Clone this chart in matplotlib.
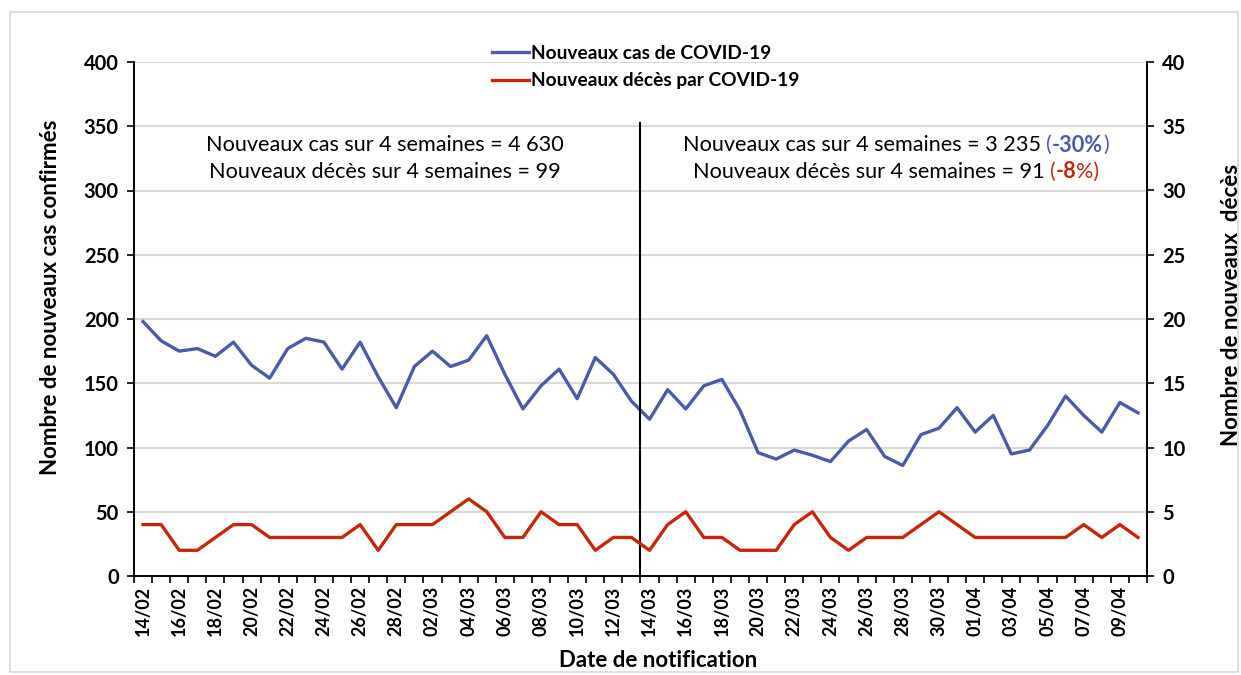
import numpy as np
import matplotlib
matplotlib.use("Agg")
from matplotlib import pyplot as plt
from matplotlib.patches import Rectangle

plt.rcParams['font.family'] = ['Lato', 'DejaVu Sans']

# donnees
dates = ['14/02', '15/02', '16/02', '17/02', '18/02', '19/02', '20/02', '21/02', '22/02', '23/02',
         '24/02', '25/02', '26/02', '27/02', '28/02', '01/03', '02/03', '03/03', '04/03', '05/03',
         '06/03', '07/03', '08/03', '09/03', '10/03', '11/03', '12/03', '13/03', '14/03', '15/03',
         '16/03', '17/03', '18/03', '19/03', '20/03', '21/03', '22/03', '23/03', '24/03', '25/03',
         '26/03', '27/03', '28/03', '29/03', '30/03', '31/03', '01/04', '02/04', '03/04', '04/04',
         '05/04', '06/04', '07/04', '08/04', '09/04', '10/04']
cas = [198, 183, 175, 177, 171, 182, 164, 154, 177, 185, 182, 161, 182, 155, 131, 163, 175, 163,
       168, 187, 157, 130, 148, 161, 138, 170, 157, 136,
       122, 145, 130, 148, 153, 129, 96, 91, 98, 94, 89, 105, 114, 93, 86, 110, 115, 131,
       112, 125, 95, 98, 117, 140, 125, 112, 135, 127]
deces = [4, 4, 2, 2, 3, 4, 4, 3, 3, 3, 3, 3, 4, 2, 4, 4, 4, 5, 6, 5, 3, 3, 5, 4, 4, 2, 3, 3,
         2, 4, 5, 3, 3, 2, 2, 2, 4, 5, 3, 2, 3, 3, 3, 4, 5, 4, 3, 3, 3, 3, 3, 3, 4, 3, 4, 3]

bleu = '#4A5BA8'
rouge = '#C8260C'

x = np.arange(len(dates))

W, H = 1241, 675
fig = plt.figure(figsize=(W/100, H/100), dpi=100)
fig.patches.append(Rectangle((10/W, 3/H), 1228/W, 660/H, transform=fig.transFigure,
                             fill=False, edgecolor='#D9D9D9', linewidth=1.2))

ax = fig.add_axes([134/W, 99/H, 1013/W, 514/H])
ax2 = ax.twinx()

ax.set_ylim(0, 400)
ax.set_yticks(np.arange(0, 401, 50))
ax2.set_ylim(0, 40)
ax2.set_yticks(np.arange(0, 41, 5))
ax.set_xlim(-0.5, len(dates) - 0.5)

ax.grid(axis='y', color='#D9D9D9', linewidth=1.5)
ax.set_axisbelow(True)

l1, = ax.plot(x, cas, color=bleu, linewidth=2.4, label='Nouveaux cas de COVID-19', zorder=3)
l2, = ax2.plot(x, deces, color=rouge, linewidth=2.4, label='Nouveaux décès par COVID-19', zorder=3)
ax.vlines(27.5, 0, 353, color='black', linewidth=1.5, zorder=4)

ax.set_xticks(x[::2])
ax.set_xticklabels(dates[::2], rotation=90, fontsize=13, fontweight='bold')
ax.set_xticks(np.arange(-0.5, len(dates), 1), minor=True)
ax.tick_params(axis='x', which='major', length=0, pad=7)
ax.tick_params(axis='x', which='minor', length=5, width=1.2, direction='out')
ax.tick_params(axis='y', length=5, width=1.2, labelsize=14.5, pad=6)
ax2.tick_params(axis='y', length=5, width=1.2, labelsize=14.5, pad=6)
for lab in ax.get_yticklabels() + ax2.get_yticklabels():
    lab.set_fontweight('bold')

for a in (ax, ax2):
    a.spines['top'].set_visible(False)
    for s in ('left', 'right', 'bottom'):
        a.spines[s].set_linewidth(1.2)

ax.set_ylabel('Nombre de nouveaux cas confirmés', fontsize=16, fontweight='bold')
ax.yaxis.set_label_coords((61 - 134)/1013, (576 - 297)/514)
ax2.set_ylabel('Nombre de nouveaux  décès', fontsize=16, fontweight='bold')
ax2.yaxis.set_label_coords((1221 - 134)/1013, (576 - 305)/514)
ax.set_xlabel('Date de notification', fontsize=16, fontweight='bold')
ax.xaxis.set_label_coords((658 - 134)/1013, -(650 - 576)/514)

fig.legend(handles=[l1, l2], loc='center', bbox_to_anchor=(646/W, 1 - 67/H), frameon=False,
           prop={'weight': 'bold', 'size': 13.8}, handlelength=1.9, handletextpad=0.15,
           labelspacing=0.55)

# textes en plusieurs morceaux (couleurs differentes)
fig.canvas.draw()
rend = fig.canvas.get_renderer()


def ligne(morceaux, xc, y):
    txts = []
    total = 0
    for t, c, w in morceaux:
        tt = fig.text(0, 1 - y/H, t, color=c, fontweight=w, fontsize=15.6, va='center', ha='left')
        txts.append(tt)
        total += tt.get_window_extent(rend).width
    pos = xc - total/2
    for tt in txts:
        wd = tt.get_window_extent(rend).width
        tt.set_x(pos/W)
        pos += wd


ligne([('Nouveaux cas sur 4 semaines = 4 630', 'black', 'normal')], 385, 145)
ligne([('Nouveaux décès sur 4 semaines = 99', 'black', 'normal')], 385, 172)
ligne([('Nouveaux cas sur 4 semaines = 3 235 ', 'black', 'normal'), ('(', bleu, 'normal'),
       ('-30%', bleu, 'bold'), (')', bleu, 'normal')], 896, 145)
ligne([('Nouveaux décès sur 4 semaines = 91 ', 'black', 'normal'), ('(', rouge, 'normal'),
       ('-8', rouge, 'bold'), ('%)', rouge, 'normal')], 896, 172)

fig.savefig('out.png', dpi=100)
